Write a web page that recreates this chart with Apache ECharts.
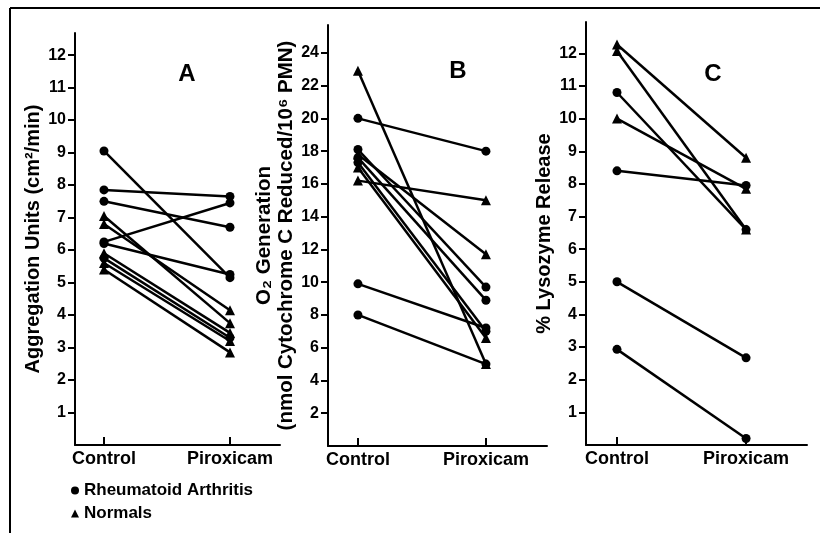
<!DOCTYPE html>
<html><head><meta charset="utf-8">
<script src="https://cdn.jsdelivr.net/npm/echarts@6/dist/echarts.min.js"></script>
<style>html,body{margin:0;padding:0;background:#fff}#c{width:820px;height:533px}</style>
</head><body><div id="c"></div>
<script>
// ---- data ----
const categories = ['Control', 'Piroxicam'];
const groupNames = { RA: 'Rheumatoid Arthritis', N: 'Normals' };
const panelTitles = ['A', 'B', 'C'];
const axisNames = [
  'Aggregation Units (cm²/min)',
  'O₂ Generation\n(nmol Cytochrome C Reduced/10⁶ PMN)',
  '% Lysozyme Release'
];
// Panel A: platelet aggregation
const aControl   = [9.05, 7.85, 7.5, 6.25, 6.2, 7.05, 6.8, 5.9, 5.75, 5.6, 5.4];
const aPiroxicam = [5.15, 7.65, 6.7, 7.45, 5.25, 3.75, 4.15, 3.45, 3.3, 3.2, 2.85];
const aGroup     = ['RA','RA','RA','RA','RA','N','N','N','RA','N','N'];
// Panel B: O2 generation
const bControl   = [22.9, 20.0, 18.1, 17.8, 17.6, 17.3, 17.0, 16.2, 9.9, 8.0];
const bPiroxicam = [5.0, 18.0, 9.7, 11.7, 8.9, 7.0, 6.6, 15.0, 7.2, 5.0];
const bGroup     = ['N','RA','RA','N','RA','RA','N','N','RA','RA'];
// Panel C: lysozyme release
const cControl   = [12.27, 12.07, 10.8, 10.0, 8.4, 5.0, 2.93];
const cPiroxicam = [8.8, 6.6, 6.6, 7.85, 7.95, 2.67, 0.2];
const cGroup     = ['N','N','RA','N','RA','RA','RA'];
// tick labels
const aTicks = [1,2,3,4,5,6,7,8,9,10,11,12];
const bTicks = [2,4,6,8,10,12,14,16,18,20,22,24];
const cTicks = [1,2,3,4,5,6,7,8,9,10,11,12];

// ---- chart ----
const FONT = 'Liberation Sans, Arial, Helvetica, DejaVu Sans, sans-serif';
const panels = [
  { ctrl: aControl, pir: aPiroxicam, grp: aGroup, ticks: aTicks },
  { ctrl: bControl, pir: bPiroxicam, grp: bGroup, ticks: bTicks },
  { ctrl: cControl, pir: cPiroxicam, grp: cGroup, ticks: cTicks }
];
const grids = [
  { left: 75,  top: 33, width: 205, height: 412 },
  { left: 328, top: 25, width: 219, height: 421 },
  { left: 586, top: 22, width: 221, height: 423 }
];
const xRanges = [[0.770, 2.397], [0.766, 2.477], [0.760, 2.472]];
const yMax = [12.68, 25.7, 12.96];
const nameGaps = [30, 30, 28];
const nameSizes = [20, 20.5, 20];
const titlePos = [[182, 57], [453, 54], [708, 57]];

const xAxes = [], yAxes = [], series = [], titles = [];
panels.forEach((p, k) => {
  xAxes.push({
    type: 'value', gridIndex: k, min: xRanges[k][0], max: xRanges[k][1],
    splitLine: { show: false },
    axisLine: { onZero: false, lineStyle: { color: '#000', width: 2 } },
    axisTick: { inside: true, length: 8, customValues: [1, 2], lineStyle: { color: '#000', width: 2 } },
    axisLabel: { customValues: [1, 2], formatter: v => categories[Math.round(v) - 1] || '',
      color: '#000', fontSize: 18, fontWeight: 'bold', fontFamily: FONT, margin: 5 }
  });
  yAxes.push({
    type: 'value', gridIndex: k, min: 0, max: yMax[k],
    name: axisNames[k], nameLocation: 'middle', nameGap: nameGaps[k], nameRotate: 90,
    nameTextStyle: { color: '#000', fontSize: nameSizes[k], fontWeight: 'bold', fontFamily: FONT, lineHeight: 22 },
    splitLine: { show: false },
    axisLine: { lineStyle: { color: '#000', width: 2 } },
    axisTick: { length: 7, customValues: p.ticks, lineStyle: { color: '#000', width: 2 } },
    axisLabel: { customValues: p.ticks, color: '#000', fontSize: 16, fontWeight: 'bold', fontFamily: FONT, margin: 9 }
  });
  titles.push({
    text: panelTitles[k], left: titlePos[k][0], top: titlePos[k][1], textAlign: 'center',
    textStyle: { color: '#000', fontSize: 24, fontWeight: 'bold', fontFamily: FONT }
  });
  p.ctrl.forEach((c, i) => {
    series.push({
      type: 'line', name: groupNames[p.grp[i]], xAxisIndex: k, yAxisIndex: k,
      data: [[1, c], [2, p.pir[i]]],
      symbol: p.grp[i] === 'RA' ? 'circle' : 'triangle',
      symbolSize: p.grp[i] === 'RA' ? 9 : 10,
      color: '#000',
      lineStyle: { color: '#000', width: 2.5 },
      itemStyle: { color: '#000' },
      silent: true, animation: false
    });
  });
});

const chart = echarts.init(document.getElementById('c'), null, { renderer: 'canvas' });
chart.setOption({
  backgroundColor: '#fff',
  animation: false,
  title: titles,
  grid: grids,
  xAxis: xAxes,
  yAxis: yAxes,
  legend: {
    orient: 'vertical', left: 71, top: 482, padding: 0, itemWidth: 8, itemHeight: 8, itemGap: 6,
    selectedMode: false,
    data: [{ name: groupNames.RA, icon: 'circle' }, { name: groupNames.N, icon: 'triangle' }],
    textStyle: { color: '#000', fontSize: 17, fontWeight: 'bold', fontFamily: FONT }
  },
  graphic: [
    { type: 'line', shape: { x1: 10, y1: 8, x2: 820, y2: 8 }, style: { stroke: '#000', lineWidth: 2 } },
    { type: 'line', shape: { x1: 10, y1: 8, x2: 10, y2: 533 }, style: { stroke: '#000', lineWidth: 2 } }
  ],
  series: series
});
</script>
</body></html>
